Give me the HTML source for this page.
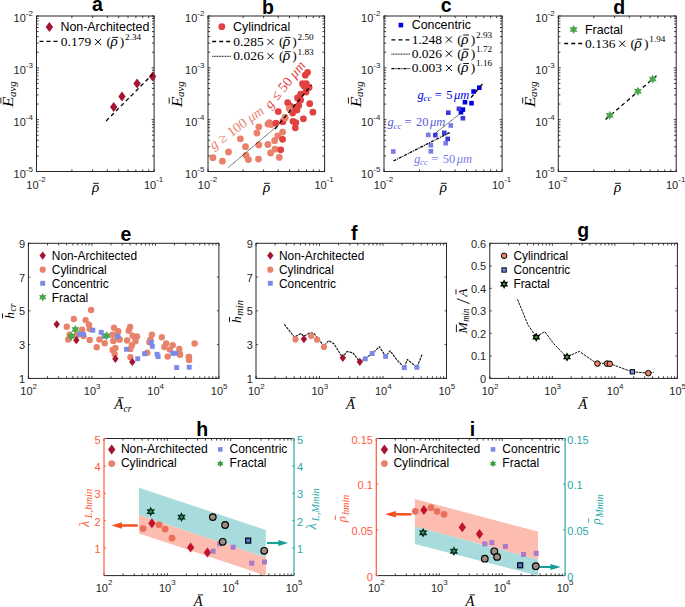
<!DOCTYPE html>
<html><head><meta charset="utf-8"><style>
html,body{margin:0;padding:0;background:#fff;}
body{width:685px;height:607px;overflow:hidden;}
svg{display:block;}
.s{font-family:"Liberation Sans",sans-serif;}
.r{font-family:"Liberation Serif",serif;}
.i{font-style:italic;}
.b{font-weight:bold;}
</style></head><body>
<svg width="685" height="607" viewBox="0 0 685 607">
<rect width="685" height="607" fill="#fff"/>
<g fill="#262626">
<rect x="36.50" y="16.00" width="117.60" height="155.50" fill="none" stroke="#262626" stroke-width="1"/>
<path d="M36.50 171.50v-2.5M36.50 16.00v2.5M71.90 171.50v-2.1M71.90 16.00v2.1M92.61 171.50v-2.1M92.61 16.00v2.1M107.30 171.50v-2.1M107.30 16.00v2.1M118.70 171.50v-2.1M118.70 16.00v2.1M128.01 171.50v-2.1M128.01 16.00v2.1M135.88 171.50v-2.1M135.88 16.00v2.1M142.70 171.50v-2.1M142.70 16.00v2.1M148.72 171.50v-2.1M148.72 16.00v2.1M154.10 171.50v-2.5M154.10 16.00v2.5" stroke="#262626" stroke-width="0.9" fill="none"/>
<path d="M36.50 171.50h2.5M154.10 171.50h-2.5M36.50 155.90h2.1M154.10 155.90h-2.1M36.50 146.77h2.1M154.10 146.77h-2.1M36.50 140.29h2.1M154.10 140.29h-2.1M36.50 135.27h2.1M154.10 135.27h-2.1M36.50 131.17h2.1M154.10 131.17h-2.1M36.50 127.70h2.1M154.10 127.70h-2.1M36.50 124.69h2.1M154.10 124.69h-2.1M36.50 122.04h2.1M154.10 122.04h-2.1M36.50 119.67h2.5M154.10 119.67h-2.5M36.50 104.06h2.1M154.10 104.06h-2.1M36.50 94.94h2.1M154.10 94.94h-2.1M36.50 88.46h2.1M154.10 88.46h-2.1M36.50 83.44h2.1M154.10 83.44h-2.1M36.50 79.33h2.1M154.10 79.33h-2.1M36.50 75.86h2.1M154.10 75.86h-2.1M36.50 72.86h2.1M154.10 72.86h-2.1M36.50 70.21h2.1M154.10 70.21h-2.1M36.50 67.83h2.5M154.10 67.83h-2.5M36.50 52.23h2.1M154.10 52.23h-2.1M36.50 43.10h2.1M154.10 43.10h-2.1M36.50 36.63h2.1M154.10 36.63h-2.1M36.50 31.60h2.1M154.10 31.60h-2.1M36.50 27.50h2.1M154.10 27.50h-2.1M36.50 24.03h2.1M154.10 24.03h-2.1M36.50 21.02h2.1M154.10 21.02h-2.1M36.50 18.37h2.1M154.10 18.37h-2.1M36.50 16.00h2.5M154.10 16.00h-2.5" stroke="#262626" stroke-width="0.9" fill="none"/>
<text x="32.90" y="177.70" class="s" font-size="11" text-anchor="end">10<tspan dy="-6.2" font-size="8">-5</tspan></text>
<text x="32.90" y="125.87" class="s" font-size="11" text-anchor="end">10<tspan dy="-6.2" font-size="8">-4</tspan></text>
<text x="32.90" y="74.03" class="s" font-size="11" text-anchor="end">10<tspan dy="-6.2" font-size="8">-3</tspan></text>
<text x="32.90" y="22.20" class="s" font-size="11" text-anchor="end">10<tspan dy="-6.2" font-size="8">-2</tspan></text>
<text x="36.00" y="188.50" class="s" font-size="11" text-anchor="middle">10<tspan dy="-6.2" font-size="8">-2</tspan></text>
<text x="153.60" y="188.50" class="s" font-size="11" text-anchor="middle">10<tspan dy="-6.2" font-size="8">-1</tspan></text>
<text x="97.45" y="11.30" class="s b" font-size="19.5" fill="#000" text-anchor="middle">a</text>
<rect x="208.00" y="16.00" width="116.60" height="155.50" fill="none" stroke="#262626" stroke-width="1"/>
<path d="M208.00 171.50v-2.5M208.00 16.00v2.5M243.10 171.50v-2.1M243.10 16.00v2.1M263.63 171.50v-2.1M263.63 16.00v2.1M278.20 171.50v-2.1M278.20 16.00v2.1M289.50 171.50v-2.1M289.50 16.00v2.1M298.73 171.50v-2.1M298.73 16.00v2.1M306.54 171.50v-2.1M306.54 16.00v2.1M313.30 171.50v-2.1M313.30 16.00v2.1M319.26 171.50v-2.1M319.26 16.00v2.1M324.60 171.50v-2.5M324.60 16.00v2.5" stroke="#262626" stroke-width="0.9" fill="none"/>
<path d="M208.00 171.50h2.5M324.60 171.50h-2.5M208.00 155.90h2.1M324.60 155.90h-2.1M208.00 146.77h2.1M324.60 146.77h-2.1M208.00 140.29h2.1M324.60 140.29h-2.1M208.00 135.27h2.1M324.60 135.27h-2.1M208.00 131.17h2.1M324.60 131.17h-2.1M208.00 127.70h2.1M324.60 127.70h-2.1M208.00 124.69h2.1M324.60 124.69h-2.1M208.00 122.04h2.1M324.60 122.04h-2.1M208.00 119.67h2.5M324.60 119.67h-2.5M208.00 104.06h2.1M324.60 104.06h-2.1M208.00 94.94h2.1M324.60 94.94h-2.1M208.00 88.46h2.1M324.60 88.46h-2.1M208.00 83.44h2.1M324.60 83.44h-2.1M208.00 79.33h2.1M324.60 79.33h-2.1M208.00 75.86h2.1M324.60 75.86h-2.1M208.00 72.86h2.1M324.60 72.86h-2.1M208.00 70.21h2.1M324.60 70.21h-2.1M208.00 67.83h2.5M324.60 67.83h-2.5M208.00 52.23h2.1M324.60 52.23h-2.1M208.00 43.10h2.1M324.60 43.10h-2.1M208.00 36.63h2.1M324.60 36.63h-2.1M208.00 31.60h2.1M324.60 31.60h-2.1M208.00 27.50h2.1M324.60 27.50h-2.1M208.00 24.03h2.1M324.60 24.03h-2.1M208.00 21.02h2.1M324.60 21.02h-2.1M208.00 18.37h2.1M324.60 18.37h-2.1M208.00 16.00h2.5M324.60 16.00h-2.5" stroke="#262626" stroke-width="0.9" fill="none"/>
<text x="204.40" y="177.70" class="s" font-size="11" text-anchor="end">10<tspan dy="-6.2" font-size="8">-5</tspan></text>
<text x="204.40" y="125.87" class="s" font-size="11" text-anchor="end">10<tspan dy="-6.2" font-size="8">-4</tspan></text>
<text x="204.40" y="74.03" class="s" font-size="11" text-anchor="end">10<tspan dy="-6.2" font-size="8">-3</tspan></text>
<text x="204.40" y="22.20" class="s" font-size="11" text-anchor="end">10<tspan dy="-6.2" font-size="8">-2</tspan></text>
<text x="207.50" y="188.50" class="s" font-size="11" text-anchor="middle">10<tspan dy="-6.2" font-size="8">-2</tspan></text>
<text x="324.10" y="188.50" class="s" font-size="11" text-anchor="middle">10<tspan dy="-6.2" font-size="8">-1</tspan></text>
<text x="267.85" y="13.70" class="s b" font-size="19.5" fill="#000" text-anchor="middle">b</text>
<rect x="384.00" y="16.00" width="118.10" height="155.50" fill="none" stroke="#262626" stroke-width="1"/>
<path d="M384.00 171.50v-2.5M384.00 16.00v2.5M419.55 171.50v-2.1M419.55 16.00v2.1M440.35 171.50v-2.1M440.35 16.00v2.1M455.10 171.50v-2.1M455.10 16.00v2.1M466.55 171.50v-2.1M466.55 16.00v2.1M475.90 171.50v-2.1M475.90 16.00v2.1M483.81 171.50v-2.1M483.81 16.00v2.1M490.65 171.50v-2.1M490.65 16.00v2.1M496.70 171.50v-2.1M496.70 16.00v2.1M502.10 171.50v-2.5M502.10 16.00v2.5" stroke="#262626" stroke-width="0.9" fill="none"/>
<path d="M384.00 171.50h2.5M502.10 171.50h-2.5M384.00 155.90h2.1M502.10 155.90h-2.1M384.00 146.77h2.1M502.10 146.77h-2.1M384.00 140.29h2.1M502.10 140.29h-2.1M384.00 135.27h2.1M502.10 135.27h-2.1M384.00 131.17h2.1M502.10 131.17h-2.1M384.00 127.70h2.1M502.10 127.70h-2.1M384.00 124.69h2.1M502.10 124.69h-2.1M384.00 122.04h2.1M502.10 122.04h-2.1M384.00 119.67h2.5M502.10 119.67h-2.5M384.00 104.06h2.1M502.10 104.06h-2.1M384.00 94.94h2.1M502.10 94.94h-2.1M384.00 88.46h2.1M502.10 88.46h-2.1M384.00 83.44h2.1M502.10 83.44h-2.1M384.00 79.33h2.1M502.10 79.33h-2.1M384.00 75.86h2.1M502.10 75.86h-2.1M384.00 72.86h2.1M502.10 72.86h-2.1M384.00 70.21h2.1M502.10 70.21h-2.1M384.00 67.83h2.5M502.10 67.83h-2.5M384.00 52.23h2.1M502.10 52.23h-2.1M384.00 43.10h2.1M502.10 43.10h-2.1M384.00 36.63h2.1M502.10 36.63h-2.1M384.00 31.60h2.1M502.10 31.60h-2.1M384.00 27.50h2.1M502.10 27.50h-2.1M384.00 24.03h2.1M502.10 24.03h-2.1M384.00 21.02h2.1M502.10 21.02h-2.1M384.00 18.37h2.1M502.10 18.37h-2.1M384.00 16.00h2.5M502.10 16.00h-2.5" stroke="#262626" stroke-width="0.9" fill="none"/>
<text x="380.40" y="177.70" class="s" font-size="11" text-anchor="end">10<tspan dy="-6.2" font-size="8">-5</tspan></text>
<text x="380.40" y="125.87" class="s" font-size="11" text-anchor="end">10<tspan dy="-6.2" font-size="8">-4</tspan></text>
<text x="380.40" y="74.03" class="s" font-size="11" text-anchor="end">10<tspan dy="-6.2" font-size="8">-3</tspan></text>
<text x="380.40" y="22.20" class="s" font-size="11" text-anchor="end">10<tspan dy="-6.2" font-size="8">-2</tspan></text>
<text x="383.50" y="188.50" class="s" font-size="11" text-anchor="middle">10<tspan dy="-6.2" font-size="8">-2</tspan></text>
<text x="501.60" y="188.50" class="s" font-size="11" text-anchor="middle">10<tspan dy="-6.2" font-size="8">-1</tspan></text>
<text x="446.25" y="12.40" class="s b" font-size="19.5" fill="#000" text-anchor="middle">c</text>
<rect x="558.30" y="16.00" width="117.90" height="155.50" fill="none" stroke="#262626" stroke-width="1"/>
<path d="M558.30 171.50v-2.5M558.30 16.00v2.5M593.79 171.50v-2.1M593.79 16.00v2.1M614.55 171.50v-2.1M614.55 16.00v2.1M629.28 171.50v-2.1M629.28 16.00v2.1M640.71 171.50v-2.1M640.71 16.00v2.1M650.04 171.50v-2.1M650.04 16.00v2.1M657.94 171.50v-2.1M657.94 16.00v2.1M664.77 171.50v-2.1M664.77 16.00v2.1M670.81 171.50v-2.1M670.81 16.00v2.1M676.20 171.50v-2.5M676.20 16.00v2.5" stroke="#262626" stroke-width="0.9" fill="none"/>
<path d="M558.30 171.50h2.5M676.20 171.50h-2.5M558.30 155.90h2.1M676.20 155.90h-2.1M558.30 146.77h2.1M676.20 146.77h-2.1M558.30 140.29h2.1M676.20 140.29h-2.1M558.30 135.27h2.1M676.20 135.27h-2.1M558.30 131.17h2.1M676.20 131.17h-2.1M558.30 127.70h2.1M676.20 127.70h-2.1M558.30 124.69h2.1M676.20 124.69h-2.1M558.30 122.04h2.1M676.20 122.04h-2.1M558.30 119.67h2.5M676.20 119.67h-2.5M558.30 104.06h2.1M676.20 104.06h-2.1M558.30 94.94h2.1M676.20 94.94h-2.1M558.30 88.46h2.1M676.20 88.46h-2.1M558.30 83.44h2.1M676.20 83.44h-2.1M558.30 79.33h2.1M676.20 79.33h-2.1M558.30 75.86h2.1M676.20 75.86h-2.1M558.30 72.86h2.1M676.20 72.86h-2.1M558.30 70.21h2.1M676.20 70.21h-2.1M558.30 67.83h2.5M676.20 67.83h-2.5M558.30 52.23h2.1M676.20 52.23h-2.1M558.30 43.10h2.1M676.20 43.10h-2.1M558.30 36.63h2.1M676.20 36.63h-2.1M558.30 31.60h2.1M676.20 31.60h-2.1M558.30 27.50h2.1M676.20 27.50h-2.1M558.30 24.03h2.1M676.20 24.03h-2.1M558.30 21.02h2.1M676.20 21.02h-2.1M558.30 18.37h2.1M676.20 18.37h-2.1M558.30 16.00h2.5M676.20 16.00h-2.5" stroke="#262626" stroke-width="0.9" fill="none"/>
<text x="554.70" y="177.70" class="s" font-size="11" text-anchor="end">10<tspan dy="-6.2" font-size="8">-5</tspan></text>
<text x="554.70" y="125.87" class="s" font-size="11" text-anchor="end">10<tspan dy="-6.2" font-size="8">-4</tspan></text>
<text x="554.70" y="74.03" class="s" font-size="11" text-anchor="end">10<tspan dy="-6.2" font-size="8">-3</tspan></text>
<text x="554.70" y="22.20" class="s" font-size="11" text-anchor="end">10<tspan dy="-6.2" font-size="8">-2</tspan></text>
<text x="557.80" y="188.50" class="s" font-size="11" text-anchor="middle">10<tspan dy="-6.2" font-size="8">-2</tspan></text>
<text x="675.70" y="188.50" class="s" font-size="11" text-anchor="middle">10<tspan dy="-6.2" font-size="8">-1</tspan></text>
<text x="619.30" y="14.00" class="s b" font-size="19.5" fill="#000" text-anchor="middle">d</text>
<polygon points="49.40,22.10 53.10,27.10 49.40,32.10 45.70,27.10" fill="#a2142f" stroke="none" stroke-width="0"/>
<text x="60.50" y="31.20" class="s" font-size="12.4" fill="#000">Non-Architected</text>
<line x1="39.50" y1="41.30" x2="58.50" y2="41.30" stroke="#000" stroke-width="1.3" stroke-dasharray="4,3" stroke-linecap="butt"/>
<text x="60.80" y="46.00" class="r" font-size="13.5" fill="#000">0.179</text>
<line x1="95.00" y1="38.90" x2="101.00" y2="44.90" stroke="#000" stroke-width="1.0" stroke-linecap="butt"/>
<line x1="95.00" y1="44.90" x2="101.00" y2="38.90" stroke="#000" stroke-width="1.0" stroke-linecap="butt"/>
<text x="106.40" y="46.00" class="r" font-size="13.5" fill="#000">(</text>
<text x="110.40" y="46.00" class="r i" font-size="15" fill="#000">ρ</text>
<line x1="112.30" y1="37.40" x2="118.10" y2="37.40" stroke="#000" stroke-width="0.9" stroke-linecap="butt"/>
<text x="119.80" y="46.00" class="r" font-size="13.5" fill="#000">)</text>
<text x="125.10" y="40.20" class="r" font-size="9.2" fill="#000">2.34</text>
<polygon points="113.70,102.10 117.40,107.10 113.70,112.10 110.00,107.10" fill="#a2142f" stroke="none" stroke-width="0"/>
<polygon points="122.00,91.60 125.70,96.60 122.00,101.60 118.30,96.60" fill="#a2142f" stroke="none" stroke-width="0"/>
<polygon points="137.10,78.40 140.80,83.40 137.10,88.40 133.40,83.40" fill="#a2142f" stroke="none" stroke-width="0"/>
<polygon points="152.60,71.50 156.30,76.50 152.60,81.50 148.90,76.50" fill="#a2142f" stroke="none" stroke-width="0"/>
<line x1="106.10" y1="121.00" x2="152.60" y2="74.20" stroke="#000" stroke-width="1.3" stroke-dasharray="4,3" stroke-linecap="butt"/>
<circle cx="221.80" cy="26.70" r="3.4" fill="#e34040" stroke="none" stroke-width="0"/>
<text x="233.00" y="31.10" class="s" font-size="12.4" fill="#000">Cylindrical</text>
<line x1="212.20" y1="41.50" x2="231.00" y2="41.50" stroke="#000" stroke-width="1.3" stroke-dasharray="4,3" stroke-linecap="butt"/>
<text x="233.30" y="46.00" class="r" font-size="13.5" fill="#000">0.285</text>
<line x1="267.50" y1="38.90" x2="273.50" y2="44.90" stroke="#000" stroke-width="1.0" stroke-linecap="butt"/>
<line x1="267.50" y1="44.90" x2="273.50" y2="38.90" stroke="#000" stroke-width="1.0" stroke-linecap="butt"/>
<text x="278.90" y="46.00" class="r" font-size="13.5" fill="#000">(</text>
<text x="282.90" y="46.00" class="r i" font-size="15" fill="#000">ρ</text>
<line x1="284.80" y1="37.40" x2="290.60" y2="37.40" stroke="#000" stroke-width="0.9" stroke-linecap="butt"/>
<text x="292.30" y="46.00" class="r" font-size="13.5" fill="#000">)</text>
<text x="297.60" y="40.20" class="r" font-size="9.2" fill="#000">2.50</text>
<line x1="212.20" y1="56.30" x2="231.00" y2="56.30" stroke="#000" stroke-width="1" stroke-dasharray="1,0.6" stroke-linecap="butt"/>
<text x="233.30" y="60.30" class="r" font-size="13.5" fill="#000">0.026</text>
<line x1="267.50" y1="53.20" x2="273.50" y2="59.20" stroke="#000" stroke-width="1.0" stroke-linecap="butt"/>
<line x1="267.50" y1="59.20" x2="273.50" y2="53.20" stroke="#000" stroke-width="1.0" stroke-linecap="butt"/>
<text x="278.90" y="60.30" class="r" font-size="13.5" fill="#000">(</text>
<text x="282.90" y="60.30" class="r i" font-size="15" fill="#000">ρ</text>
<line x1="284.80" y1="51.70" x2="290.60" y2="51.70" stroke="#000" stroke-width="0.9" stroke-linecap="butt"/>
<text x="292.30" y="60.30" class="r" font-size="13.5" fill="#000">)</text>
<text x="297.60" y="54.50" class="r" font-size="9.2" fill="#000">1.83</text>
<circle cx="212.90" cy="157.70" r="3.4" fill="#e8806a" stroke="none" stroke-width="0"/>
<circle cx="222.40" cy="161.20" r="3.4" fill="#e8806a" stroke="none" stroke-width="0"/>
<circle cx="228.50" cy="152.00" r="3.4" fill="#e8806a" stroke="none" stroke-width="0"/>
<circle cx="240.40" cy="138.80" r="3.4" fill="#e8806a" stroke="none" stroke-width="0"/>
<circle cx="245.50" cy="146.70" r="3.4" fill="#e8806a" stroke="none" stroke-width="0"/>
<circle cx="246.10" cy="155.50" r="3.4" fill="#e8806a" stroke="none" stroke-width="0"/>
<circle cx="248.40" cy="159.60" r="3.4" fill="#e8806a" stroke="none" stroke-width="0"/>
<circle cx="256.90" cy="133.10" r="3.4" fill="#e8806a" stroke="none" stroke-width="0"/>
<circle cx="258.80" cy="126.80" r="3.4" fill="#e8806a" stroke="none" stroke-width="0"/>
<circle cx="258.80" cy="145.00" r="3.4" fill="#e8806a" stroke="none" stroke-width="0"/>
<circle cx="258.50" cy="159.10" r="3.4" fill="#e8806a" stroke="none" stroke-width="0"/>
<circle cx="267.90" cy="124.10" r="3.4" fill="#e8806a" stroke="none" stroke-width="0"/>
<circle cx="269.30" cy="122.60" r="3.4" fill="#e8806a" stroke="none" stroke-width="0"/>
<circle cx="271.20" cy="124.50" r="3.4" fill="#e8806a" stroke="none" stroke-width="0"/>
<circle cx="267.90" cy="144.50" r="3.4" fill="#e8806a" stroke="none" stroke-width="0"/>
<circle cx="270.60" cy="153.00" r="3.4" fill="#e8806a" stroke="none" stroke-width="0"/>
<circle cx="275.00" cy="149.20" r="3.4" fill="#e8806a" stroke="none" stroke-width="0"/>
<circle cx="274.60" cy="140.70" r="3.4" fill="#e8806a" stroke="none" stroke-width="0"/>
<circle cx="277.80" cy="135.90" r="3.4" fill="#e8806a" stroke="none" stroke-width="0"/>
<circle cx="282.60" cy="132.10" r="3.4" fill="#e8806a" stroke="none" stroke-width="0"/>
<circle cx="279.30" cy="157.40" r="3.4" fill="#e8806a" stroke="none" stroke-width="0"/>
<circle cx="285.00" cy="117.50" r="3.4" fill="#e8806a" stroke="none" stroke-width="0"/>
<circle cx="278.20" cy="111.60" r="3.4" fill="#e34040" stroke="none" stroke-width="0"/>
<circle cx="275.90" cy="123.20" r="3.4" fill="#e34040" stroke="none" stroke-width="0"/>
<circle cx="282.90" cy="121.70" r="3.4" fill="#e34040" stroke="none" stroke-width="0"/>
<circle cx="282.60" cy="139.30" r="3.4" fill="#e34040" stroke="none" stroke-width="0"/>
<circle cx="280.70" cy="149.80" r="3.4" fill="#e34040" stroke="none" stroke-width="0"/>
<circle cx="287.70" cy="102.70" r="3.4" fill="#e34040" stroke="none" stroke-width="0"/>
<circle cx="292.60" cy="113.10" r="3.4" fill="#e34040" stroke="none" stroke-width="0"/>
<circle cx="293.00" cy="121.30" r="3.4" fill="#e34040" stroke="none" stroke-width="0"/>
<circle cx="295.80" cy="122.60" r="3.4" fill="#e34040" stroke="none" stroke-width="0"/>
<circle cx="295.30" cy="127.80" r="3.4" fill="#e34040" stroke="none" stroke-width="0"/>
<circle cx="294.90" cy="107.40" r="3.4" fill="#e34040" stroke="none" stroke-width="0"/>
<circle cx="298.70" cy="105.50" r="3.4" fill="#e34040" stroke="none" stroke-width="0"/>
<circle cx="300.60" cy="99.90" r="3.4" fill="#e34040" stroke="none" stroke-width="0"/>
<circle cx="300.60" cy="94.20" r="3.4" fill="#e34040" stroke="none" stroke-width="0"/>
<circle cx="303.40" cy="118.80" r="3.4" fill="#e34040" stroke="none" stroke-width="0"/>
<circle cx="302.50" cy="83.70" r="3.4" fill="#e34040" stroke="none" stroke-width="0"/>
<circle cx="306.30" cy="83.70" r="3.4" fill="#e34040" stroke="none" stroke-width="0"/>
<circle cx="309.10" cy="87.50" r="3.4" fill="#e34040" stroke="none" stroke-width="0"/>
<circle cx="305.30" cy="75.20" r="3.4" fill="#e34040" stroke="none" stroke-width="0"/>
<circle cx="307.60" cy="72.30" r="3.4" fill="#e34040" stroke="none" stroke-width="0"/>
<circle cx="309.70" cy="103.70" r="3.4" fill="#e34040" stroke="none" stroke-width="0"/>
<circle cx="312.90" cy="112.20" r="3.4" fill="#e34040" stroke="none" stroke-width="0"/>
<circle cx="290.00" cy="106.00" r="3.4" fill="#e34040" stroke="none" stroke-width="0"/>
<circle cx="297.00" cy="110.00" r="3.4" fill="#e34040" stroke="none" stroke-width="0"/>
<circle cx="304.00" cy="86.00" r="3.4" fill="#e34040" stroke="none" stroke-width="0"/>
<circle cx="306.00" cy="92.00" r="3.4" fill="#e34040" stroke="none" stroke-width="0"/>
<circle cx="297.50" cy="98.00" r="3.4" fill="#e34040" stroke="none" stroke-width="0"/>
<circle cx="289.20" cy="108.40" r="3.4" fill="#e8806a" stroke="none" stroke-width="0"/>
<circle cx="285.10" cy="118.00" r="3.4" fill="#e8806a" stroke="none" stroke-width="0"/>
<line x1="228.50" y1="167.40" x2="276.00" y2="127.00" stroke="#000" stroke-width="0.8" stroke-dasharray="1,0.5" stroke-linecap="butt"/>
<line x1="275.00" y1="129.00" x2="311.50" y2="85.00" stroke="#000" stroke-width="1.3" stroke-dasharray="4,3" stroke-linecap="butt"/>
<text x="0" y="0" class="r i" font-size="14" fill="#e8806a" text-anchor="middle" transform="translate(239.2,131.4) rotate(-36)">g <tspan font-style="normal">≥ 100</tspan> μm</text>
<text x="0" y="0" class="r i" font-size="14" fill="#e34040" text-anchor="middle" transform="translate(288.3,87.6) rotate(-51)">g <tspan font-style="normal">≤ 50</tspan> μm</text>
<rect x="398.60" y="22.80" width="4.60" height="4.60" fill="#0000e6" stroke="none" stroke-width="0"/>
<text x="411.70" y="28.80" class="s" font-size="12.4" fill="#000">Concentric</text>
<line x1="391.40" y1="39.80" x2="410.20" y2="39.80" stroke="#000" stroke-width="1.3" stroke-dasharray="4,3" stroke-linecap="butt"/>
<text x="411.70" y="43.60" class="r" font-size="13.5" fill="#000">1.248</text>
<line x1="445.90" y1="36.50" x2="451.90" y2="42.50" stroke="#000" stroke-width="1.0" stroke-linecap="butt"/>
<line x1="445.90" y1="42.50" x2="451.90" y2="36.50" stroke="#000" stroke-width="1.0" stroke-linecap="butt"/>
<text x="457.30" y="43.60" class="r" font-size="13.5" fill="#000">(</text>
<text x="461.30" y="43.60" class="r i" font-size="15" fill="#000">ρ</text>
<line x1="463.20" y1="35.00" x2="469.00" y2="35.00" stroke="#000" stroke-width="0.9" stroke-linecap="butt"/>
<text x="470.70" y="43.60" class="r" font-size="13.5" fill="#000">)</text>
<text x="476.00" y="37.80" class="r" font-size="9.2" fill="#000">2.93</text>
<line x1="391.40" y1="54.10" x2="410.20" y2="54.10" stroke="#000" stroke-width="1" stroke-dasharray="1,0.6" stroke-linecap="butt"/>
<text x="411.70" y="57.80" class="r" font-size="13.5" fill="#000">0.026</text>
<line x1="445.90" y1="50.70" x2="451.90" y2="56.70" stroke="#000" stroke-width="1.0" stroke-linecap="butt"/>
<line x1="445.90" y1="56.70" x2="451.90" y2="50.70" stroke="#000" stroke-width="1.0" stroke-linecap="butt"/>
<text x="457.30" y="57.80" class="r" font-size="13.5" fill="#000">(</text>
<text x="461.30" y="57.80" class="r i" font-size="15" fill="#000">ρ</text>
<line x1="463.20" y1="49.20" x2="469.00" y2="49.20" stroke="#000" stroke-width="0.9" stroke-linecap="butt"/>
<text x="470.70" y="57.80" class="r" font-size="13.5" fill="#000">)</text>
<text x="476.00" y="52.00" class="r" font-size="9.2" fill="#000">1.72</text>
<line x1="391.40" y1="68.70" x2="410.20" y2="68.70" stroke="#000" stroke-width="1.3" stroke-dasharray="3,1,1,1" stroke-linecap="butt"/>
<text x="411.70" y="72.10" class="r" font-size="13.5" fill="#000">0.003</text>
<line x1="445.90" y1="65.00" x2="451.90" y2="71.00" stroke="#000" stroke-width="1.0" stroke-linecap="butt"/>
<line x1="445.90" y1="71.00" x2="451.90" y2="65.00" stroke="#000" stroke-width="1.0" stroke-linecap="butt"/>
<text x="457.30" y="72.10" class="r" font-size="13.5" fill="#000">(</text>
<text x="461.30" y="72.10" class="r i" font-size="15" fill="#000">ρ</text>
<line x1="463.20" y1="63.50" x2="469.00" y2="63.50" stroke="#000" stroke-width="0.9" stroke-linecap="butt"/>
<text x="470.70" y="72.10" class="r" font-size="13.5" fill="#000">)</text>
<text x="476.00" y="66.30" class="r" font-size="9.2" fill="#000">1.16</text>
<rect x="477.00" y="85.40" width="4.60" height="4.60" fill="#0000e6" stroke="none" stroke-width="0"/>
<rect x="471.30" y="89.20" width="4.60" height="4.60" fill="#0000e6" stroke="none" stroke-width="0"/>
<rect x="462.70" y="99.90" width="4.60" height="4.60" fill="#0000e6" stroke="none" stroke-width="0"/>
<rect x="469.20" y="100.90" width="4.60" height="4.60" fill="#0000e6" stroke="none" stroke-width="0"/>
<rect x="460.60" y="107.30" width="4.60" height="4.60" fill="#0000e6" stroke="none" stroke-width="0"/>
<rect x="458.70" y="109.90" width="4.60" height="4.60" fill="#0000e6" stroke="none" stroke-width="0"/>
<rect x="456.60" y="106.50" width="4.60" height="4.60" fill="#3b3bdc" stroke="none" stroke-width="0"/>
<rect x="446.00" y="110.40" width="4.60" height="4.60" fill="#3b3bdc" stroke="none" stroke-width="0"/>
<rect x="460.60" y="115.90" width="4.60" height="4.60" fill="#3b3bdc" stroke="none" stroke-width="0"/>
<rect x="433.00" y="132.80" width="4.60" height="4.60" fill="#3b3bdc" stroke="none" stroke-width="0"/>
<rect x="442.00" y="130.60" width="4.60" height="4.60" fill="#3b3bdc" stroke="none" stroke-width="0"/>
<rect x="445.40" y="136.60" width="4.60" height="4.60" fill="#3b3bdc" stroke="none" stroke-width="0"/>
<rect x="448.50" y="123.20" width="4.60" height="4.60" fill="#7b7be8" stroke="none" stroke-width="0"/>
<rect x="426.00" y="132.60" width="4.60" height="4.60" fill="#7b7be8" stroke="none" stroke-width="0"/>
<rect x="428.60" y="143.00" width="4.60" height="4.60" fill="#7b7be8" stroke="none" stroke-width="0"/>
<rect x="443.40" y="140.90" width="4.60" height="4.60" fill="#7b7be8" stroke="none" stroke-width="0"/>
<rect x="428.60" y="149.00" width="4.60" height="4.60" fill="#7b7be8" stroke="none" stroke-width="0"/>
<rect x="391.00" y="149.20" width="4.60" height="4.60" fill="#7b7be8" stroke="none" stroke-width="0"/>
<line x1="471.00" y1="97.60" x2="482.50" y2="83.80" stroke="#000" stroke-width="1.3" stroke-dasharray="4,3" stroke-linecap="butt"/>
<line x1="434.80" y1="133.70" x2="460.70" y2="113.10" stroke="#000" stroke-width="0.8" stroke-dasharray="1,0.5" stroke-linecap="butt"/>
<line x1="393.50" y1="161.00" x2="449.80" y2="132.50" stroke="#000" stroke-width="1.3" stroke-dasharray="3,1,1,1" stroke-linecap="butt"/>
<text x="417.60" y="98.50" class="r i" font-size="12.5" fill="#0000e6">g</text>
<text x="423.60" y="101.00" class="r i" font-size="9" fill="#0000e6">cc</text>
<text x="434.80" y="98.50" class="r" font-size="12.5" fill="#0000e6">=</text>
<text x="446.20" y="98.50" class="r" font-size="12.5" fill="#0000e6">5</text>
<text x="454.05" y="98.50" class="r i" font-size="12.5" fill="#0000e6">μm</text>
<text x="387.40" y="126.00" class="r i" font-size="12.5" fill="#5a5ad8">g</text>
<text x="393.40" y="128.50" class="r i" font-size="9" fill="#5a5ad8">cc</text>
<text x="404.60" y="126.00" class="r" font-size="12.5" fill="#5a5ad8">=</text>
<text x="416.00" y="126.00" class="r" font-size="12.5" fill="#5a5ad8">20</text>
<text x="430.10" y="126.00" class="r i" font-size="12.5" fill="#5a5ad8">μm</text>
<text x="414.10" y="162.50" class="r i" font-size="12.5" fill="#7b7be8">g</text>
<text x="420.10" y="165.00" class="r i" font-size="9" fill="#7b7be8">cc</text>
<text x="431.30" y="162.50" class="r" font-size="12.5" fill="#7b7be8">=</text>
<text x="442.70" y="162.50" class="r" font-size="12.5" fill="#7b7be8">50</text>
<text x="456.80" y="162.50" class="r i" font-size="12.5" fill="#7b7be8">μm</text>
<polygon points="573.60,24.90 572.34,27.31 569.62,27.20 571.07,29.50 569.62,31.80 572.34,31.69 573.60,34.10 574.87,31.69 577.58,31.80 576.13,29.50 577.58,27.20 574.87,27.31" fill="#4ca64c" stroke="none" stroke-width="0"/>
<text x="585.00" y="33.60" class="s" font-size="12.4" fill="#000">Fractal</text>
<line x1="564.20" y1="43.50" x2="583.00" y2="43.50" stroke="#000" stroke-width="1.3" stroke-dasharray="4,3" stroke-linecap="butt"/>
<text x="585.00" y="47.80" class="r" font-size="13.5" fill="#000">0.136</text>
<line x1="619.20" y1="40.70" x2="625.20" y2="46.70" stroke="#000" stroke-width="1.0" stroke-linecap="butt"/>
<line x1="619.20" y1="46.70" x2="625.20" y2="40.70" stroke="#000" stroke-width="1.0" stroke-linecap="butt"/>
<text x="630.60" y="47.80" class="r" font-size="13.5" fill="#000">(</text>
<text x="634.60" y="47.80" class="r i" font-size="15" fill="#000">ρ</text>
<line x1="636.50" y1="39.20" x2="642.30" y2="39.20" stroke="#000" stroke-width="0.9" stroke-linecap="butt"/>
<text x="644.00" y="47.80" class="r" font-size="13.5" fill="#000">)</text>
<text x="649.30" y="42.00" class="r" font-size="9.2" fill="#000">1.94</text>
<line x1="605.60" y1="119.40" x2="658.30" y2="74.20" stroke="#000" stroke-width="1.3" stroke-dasharray="4,3" stroke-linecap="butt"/>
<polygon points="609.80,110.80 608.53,113.21 605.82,113.10 607.27,115.40 605.82,117.70 608.53,117.59 609.80,120.00 611.06,117.59 613.78,117.70 612.33,115.40 613.78,113.10 611.06,113.21" fill="#4ca64c" stroke="none" stroke-width="0"/>
<polygon points="637.90,86.70 636.63,89.11 633.92,89.00 635.37,91.30 633.92,93.60 636.63,93.49 637.90,95.90 639.16,93.49 641.88,93.60 640.43,91.30 641.88,89.00 639.16,89.11" fill="#4ca64c" stroke="none" stroke-width="0"/>
<polygon points="652.70,74.50 651.44,76.91 648.72,76.80 650.17,79.10 648.72,81.40 651.44,81.29 652.70,83.70 653.97,81.29 656.68,81.40 655.23,79.10 656.68,76.80 653.97,76.91" fill="#4ca64c" stroke="none" stroke-width="0"/>
<rect x="28.40" y="243.30" width="190.50" height="135.10" fill="none" stroke="#262626" stroke-width="1"/>
<path d="M28.40 378.40v-2.5M28.40 243.30v2.5M47.52 378.40v-2.1M47.52 243.30v2.1M58.70 378.40v-2.1M58.70 243.30v2.1M66.63 378.40v-2.1M66.63 243.30v2.1M72.78 378.40v-2.1M72.78 243.30v2.1M77.81 378.40v-2.1M77.81 243.30v2.1M82.06 378.40v-2.1M82.06 243.30v2.1M85.75 378.40v-2.1M85.75 243.30v2.1M88.99 378.40v-2.1M88.99 243.30v2.1M91.90 378.40v-2.5M91.90 243.30v2.5M111.02 378.40v-2.1M111.02 243.30v2.1M122.20 378.40v-2.1M122.20 243.30v2.1M130.13 378.40v-2.1M130.13 243.30v2.1M136.28 378.40v-2.1M136.28 243.30v2.1M141.31 378.40v-2.1M141.31 243.30v2.1M145.56 378.40v-2.1M145.56 243.30v2.1M149.25 378.40v-2.1M149.25 243.30v2.1M152.49 378.40v-2.1M152.49 243.30v2.1M155.40 378.40v-2.5M155.40 243.30v2.5M174.52 378.40v-2.1M174.52 243.30v2.1M185.70 378.40v-2.1M185.70 243.30v2.1M193.63 378.40v-2.1M193.63 243.30v2.1M199.78 378.40v-2.1M199.78 243.30v2.1M204.81 378.40v-2.1M204.81 243.30v2.1M209.06 378.40v-2.1M209.06 243.30v2.1M212.75 378.40v-2.1M212.75 243.30v2.1M215.99 378.40v-2.1M215.99 243.30v2.1M218.90 378.40v-2.5M218.90 243.30v2.5" stroke="#262626" stroke-width="0.9" fill="none"/>
<text x="28.70" y="394.80" class="s" font-size="11" text-anchor="middle">10<tspan dy="-6.2" font-size="8">2</tspan></text>
<text x="92.20" y="394.80" class="s" font-size="11" text-anchor="middle">10<tspan dy="-6.2" font-size="8">3</tspan></text>
<text x="155.70" y="394.80" class="s" font-size="11" text-anchor="middle">10<tspan dy="-6.2" font-size="8">4</tspan></text>
<text x="219.20" y="394.80" class="s" font-size="11" text-anchor="middle">10<tspan dy="-6.2" font-size="8">5</tspan></text>
<text x="125.85" y="241.00" class="s b" font-size="19.5" fill="#000" text-anchor="middle">e</text>
<rect x="256.00" y="243.30" width="190.50" height="135.10" fill="none" stroke="#262626" stroke-width="1"/>
<path d="M256.00 378.40v-2.5M256.00 243.30v2.5M275.12 378.40v-2.1M275.12 243.30v2.1M286.30 378.40v-2.1M286.30 243.30v2.1M294.23 378.40v-2.1M294.23 243.30v2.1M300.38 378.40v-2.1M300.38 243.30v2.1M305.41 378.40v-2.1M305.41 243.30v2.1M309.66 378.40v-2.1M309.66 243.30v2.1M313.35 378.40v-2.1M313.35 243.30v2.1M316.59 378.40v-2.1M316.59 243.30v2.1M319.50 378.40v-2.5M319.50 243.30v2.5M338.62 378.40v-2.1M338.62 243.30v2.1M349.80 378.40v-2.1M349.80 243.30v2.1M357.73 378.40v-2.1M357.73 243.30v2.1M363.88 378.40v-2.1M363.88 243.30v2.1M368.91 378.40v-2.1M368.91 243.30v2.1M373.16 378.40v-2.1M373.16 243.30v2.1M376.85 378.40v-2.1M376.85 243.30v2.1M380.09 378.40v-2.1M380.09 243.30v2.1M383.00 378.40v-2.5M383.00 243.30v2.5M402.12 378.40v-2.1M402.12 243.30v2.1M413.30 378.40v-2.1M413.30 243.30v2.1M421.23 378.40v-2.1M421.23 243.30v2.1M427.38 378.40v-2.1M427.38 243.30v2.1M432.41 378.40v-2.1M432.41 243.30v2.1M436.66 378.40v-2.1M436.66 243.30v2.1M440.35 378.40v-2.1M440.35 243.30v2.1M443.59 378.40v-2.1M443.59 243.30v2.1M446.50 378.40v-2.5M446.50 243.30v2.5" stroke="#262626" stroke-width="0.9" fill="none"/>
<text x="256.30" y="394.80" class="s" font-size="11" text-anchor="middle">10<tspan dy="-6.2" font-size="8">2</tspan></text>
<text x="319.80" y="394.80" class="s" font-size="11" text-anchor="middle">10<tspan dy="-6.2" font-size="8">3</tspan></text>
<text x="383.30" y="394.80" class="s" font-size="11" text-anchor="middle">10<tspan dy="-6.2" font-size="8">4</tspan></text>
<text x="446.80" y="394.80" class="s" font-size="11" text-anchor="middle">10<tspan dy="-6.2" font-size="8">5</tspan></text>
<text x="354.30" y="240.00" class="s b" font-size="19.5" fill="#000" text-anchor="middle">f</text>
<rect x="489.80" y="243.30" width="187.60" height="135.10" fill="none" stroke="#262626" stroke-width="1"/>
<path d="M489.80 378.40v-2.5M489.80 243.30v2.5M508.62 378.40v-2.1M508.62 243.30v2.1M519.64 378.40v-2.1M519.64 243.30v2.1M527.45 378.40v-2.1M527.45 243.30v2.1M533.51 378.40v-2.1M533.51 243.30v2.1M538.46 378.40v-2.1M538.46 243.30v2.1M542.65 378.40v-2.1M542.65 243.30v2.1M546.27 378.40v-2.1M546.27 243.30v2.1M549.47 378.40v-2.1M549.47 243.30v2.1M552.33 378.40v-2.5M552.33 243.30v2.5M571.16 378.40v-2.1M571.16 243.30v2.1M582.17 378.40v-2.1M582.17 243.30v2.1M589.98 378.40v-2.1M589.98 243.30v2.1M596.04 378.40v-2.1M596.04 243.30v2.1M600.99 378.40v-2.1M600.99 243.30v2.1M605.18 378.40v-2.1M605.18 243.30v2.1M608.81 378.40v-2.1M608.81 243.30v2.1M612.01 378.40v-2.1M612.01 243.30v2.1M614.87 378.40v-2.5M614.87 243.30v2.5M633.69 378.40v-2.1M633.69 243.30v2.1M644.70 378.40v-2.1M644.70 243.30v2.1M652.52 378.40v-2.1M652.52 243.30v2.1M658.58 378.40v-2.1M658.58 243.30v2.1M663.53 378.40v-2.1M663.53 243.30v2.1M667.71 378.40v-2.1M667.71 243.30v2.1M671.34 378.40v-2.1M671.34 243.30v2.1M674.54 378.40v-2.1M674.54 243.30v2.1M677.40 378.40v-2.5M677.40 243.30v2.5" stroke="#262626" stroke-width="0.9" fill="none"/>
<text x="490.10" y="394.80" class="s" font-size="11" text-anchor="middle">10<tspan dy="-6.2" font-size="8">2</tspan></text>
<text x="552.63" y="394.80" class="s" font-size="11" text-anchor="middle">10<tspan dy="-6.2" font-size="8">3</tspan></text>
<text x="615.17" y="394.80" class="s" font-size="11" text-anchor="middle">10<tspan dy="-6.2" font-size="8">4</tspan></text>
<text x="677.70" y="394.80" class="s" font-size="11" text-anchor="middle">10<tspan dy="-6.2" font-size="8">5</tspan></text>
<text x="583.15" y="236.80" class="s b" font-size="19.5" fill="#000" text-anchor="middle">g</text>
<line x1="28.40" y1="378.40" x2="30.40" y2="378.40" stroke="#262626" stroke-width="0.8" stroke-linecap="butt"/>
<line x1="218.90" y1="378.40" x2="216.90" y2="378.40" stroke="#262626" stroke-width="0.8" stroke-linecap="butt"/>
<text x="25.20" y="382.90" class="s" font-size="11" text-anchor="end">1</text>
<line x1="28.40" y1="344.62" x2="30.40" y2="344.62" stroke="#262626" stroke-width="0.8" stroke-linecap="butt"/>
<line x1="218.90" y1="344.62" x2="216.90" y2="344.62" stroke="#262626" stroke-width="0.8" stroke-linecap="butt"/>
<text x="25.20" y="349.12" class="s" font-size="11" text-anchor="end">3</text>
<line x1="28.40" y1="310.85" x2="30.40" y2="310.85" stroke="#262626" stroke-width="0.8" stroke-linecap="butt"/>
<line x1="218.90" y1="310.85" x2="216.90" y2="310.85" stroke="#262626" stroke-width="0.8" stroke-linecap="butt"/>
<text x="25.20" y="315.35" class="s" font-size="11" text-anchor="end">5</text>
<line x1="28.40" y1="277.07" x2="30.40" y2="277.07" stroke="#262626" stroke-width="0.8" stroke-linecap="butt"/>
<line x1="218.90" y1="277.07" x2="216.90" y2="277.07" stroke="#262626" stroke-width="0.8" stroke-linecap="butt"/>
<text x="25.20" y="281.57" class="s" font-size="11" text-anchor="end">7</text>
<line x1="28.40" y1="243.30" x2="30.40" y2="243.30" stroke="#262626" stroke-width="0.8" stroke-linecap="butt"/>
<line x1="218.90" y1="243.30" x2="216.90" y2="243.30" stroke="#262626" stroke-width="0.8" stroke-linecap="butt"/>
<text x="25.20" y="247.80" class="s" font-size="11" text-anchor="end">9</text>
<line x1="256.00" y1="378.40" x2="258.00" y2="378.40" stroke="#262626" stroke-width="0.8" stroke-linecap="butt"/>
<line x1="446.50" y1="378.40" x2="444.50" y2="378.40" stroke="#262626" stroke-width="0.8" stroke-linecap="butt"/>
<text x="252.80" y="382.90" class="s" font-size="11" text-anchor="end">1</text>
<line x1="256.00" y1="344.62" x2="258.00" y2="344.62" stroke="#262626" stroke-width="0.8" stroke-linecap="butt"/>
<line x1="446.50" y1="344.62" x2="444.50" y2="344.62" stroke="#262626" stroke-width="0.8" stroke-linecap="butt"/>
<text x="252.80" y="349.12" class="s" font-size="11" text-anchor="end">3</text>
<line x1="256.00" y1="310.85" x2="258.00" y2="310.85" stroke="#262626" stroke-width="0.8" stroke-linecap="butt"/>
<line x1="446.50" y1="310.85" x2="444.50" y2="310.85" stroke="#262626" stroke-width="0.8" stroke-linecap="butt"/>
<text x="252.80" y="315.35" class="s" font-size="11" text-anchor="end">5</text>
<line x1="256.00" y1="277.07" x2="258.00" y2="277.07" stroke="#262626" stroke-width="0.8" stroke-linecap="butt"/>
<line x1="446.50" y1="277.07" x2="444.50" y2="277.07" stroke="#262626" stroke-width="0.8" stroke-linecap="butt"/>
<text x="252.80" y="281.57" class="s" font-size="11" text-anchor="end">7</text>
<line x1="256.00" y1="243.30" x2="258.00" y2="243.30" stroke="#262626" stroke-width="0.8" stroke-linecap="butt"/>
<line x1="446.50" y1="243.30" x2="444.50" y2="243.30" stroke="#262626" stroke-width="0.8" stroke-linecap="butt"/>
<text x="252.80" y="247.80" class="s" font-size="11" text-anchor="end">9</text>
<line x1="489.80" y1="378.40" x2="491.80" y2="378.40" stroke="#262626" stroke-width="0.8" stroke-linecap="butt"/>
<line x1="677.40" y1="378.40" x2="675.40" y2="378.40" stroke="#262626" stroke-width="0.8" stroke-linecap="butt"/>
<text x="486.20" y="382.90" class="s" font-size="11" text-anchor="end">0</text>
<line x1="489.80" y1="355.88" x2="491.80" y2="355.88" stroke="#262626" stroke-width="0.8" stroke-linecap="butt"/>
<line x1="677.40" y1="355.88" x2="675.40" y2="355.88" stroke="#262626" stroke-width="0.8" stroke-linecap="butt"/>
<text x="486.20" y="360.38" class="s" font-size="11" text-anchor="end">0.1</text>
<line x1="489.80" y1="333.37" x2="491.80" y2="333.37" stroke="#262626" stroke-width="0.8" stroke-linecap="butt"/>
<line x1="677.40" y1="333.37" x2="675.40" y2="333.37" stroke="#262626" stroke-width="0.8" stroke-linecap="butt"/>
<text x="486.20" y="337.87" class="s" font-size="11" text-anchor="end">0.2</text>
<line x1="489.80" y1="310.85" x2="491.80" y2="310.85" stroke="#262626" stroke-width="0.8" stroke-linecap="butt"/>
<line x1="677.40" y1="310.85" x2="675.40" y2="310.85" stroke="#262626" stroke-width="0.8" stroke-linecap="butt"/>
<text x="486.20" y="315.35" class="s" font-size="11" text-anchor="end">0.3</text>
<line x1="489.80" y1="288.33" x2="491.80" y2="288.33" stroke="#262626" stroke-width="0.8" stroke-linecap="butt"/>
<line x1="677.40" y1="288.33" x2="675.40" y2="288.33" stroke="#262626" stroke-width="0.8" stroke-linecap="butt"/>
<text x="486.20" y="292.83" class="s" font-size="11" text-anchor="end">0.4</text>
<line x1="489.80" y1="265.82" x2="491.80" y2="265.82" stroke="#262626" stroke-width="0.8" stroke-linecap="butt"/>
<line x1="677.40" y1="265.82" x2="675.40" y2="265.82" stroke="#262626" stroke-width="0.8" stroke-linecap="butt"/>
<text x="486.20" y="270.32" class="s" font-size="11" text-anchor="end">0.5</text>
<line x1="489.80" y1="243.30" x2="491.80" y2="243.30" stroke="#262626" stroke-width="0.8" stroke-linecap="butt"/>
<line x1="677.40" y1="243.30" x2="675.40" y2="243.30" stroke="#262626" stroke-width="0.8" stroke-linecap="butt"/>
<text x="486.20" y="247.80" class="s" font-size="11" text-anchor="end">0.6</text>
<polygon points="42.70,251.50 45.90,255.60 42.70,259.70 39.50,255.60" fill="#a2142f" stroke="none" stroke-width="0"/>
<text x="51.80" y="260.20" class="s" font-size="11.9" fill="#000">Non-Architected</text>
<circle cx="42.70" cy="269.70" r="3.1" fill="#e8836b" stroke="none" stroke-width="0"/>
<text x="51.80" y="274.10" class="s" font-size="11.9" fill="#000">Cylindrical</text>
<rect x="40.25" y="280.85" width="4.90" height="4.90" fill="#7b8ae6" stroke="none" stroke-width="0"/>
<text x="51.80" y="288.20" class="s" font-size="11.9" fill="#000">Concentric</text>
<polygon points="42.70,292.90 41.52,295.15 38.98,295.05 40.34,297.20 38.98,299.35 41.52,299.25 42.70,301.50 43.88,299.25 46.42,299.35 45.07,297.20 46.42,295.05 43.88,295.15" fill="#4ca64c" stroke="none" stroke-width="0"/>
<text x="51.80" y="302.10" class="s" font-size="11.9" fill="#000">Fractal</text>
<circle cx="91.10" cy="310.00" r="3.2" fill="#e8836b" stroke="none" stroke-width="0"/>
<circle cx="73.80" cy="319.00" r="3.2" fill="#e8836b" stroke="none" stroke-width="0"/>
<circle cx="85.60" cy="320.10" r="3.2" fill="#e8836b" stroke="none" stroke-width="0"/>
<circle cx="89.00" cy="324.70" r="3.2" fill="#e8836b" stroke="none" stroke-width="0"/>
<circle cx="66.80" cy="326.80" r="3.2" fill="#e8836b" stroke="none" stroke-width="0"/>
<circle cx="89.70" cy="329.10" r="3.2" fill="#e8836b" stroke="none" stroke-width="0"/>
<circle cx="82.10" cy="329.80" r="3.2" fill="#e8836b" stroke="none" stroke-width="0"/>
<circle cx="68.20" cy="339.50" r="3.2" fill="#e8836b" stroke="none" stroke-width="0"/>
<circle cx="76.50" cy="335.40" r="3.2" fill="#e8836b" stroke="none" stroke-width="0"/>
<circle cx="83.50" cy="336.10" r="3.2" fill="#e8836b" stroke="none" stroke-width="0"/>
<circle cx="89.70" cy="340.00" r="3.2" fill="#e8836b" stroke="none" stroke-width="0"/>
<circle cx="96.70" cy="347.20" r="3.2" fill="#e8836b" stroke="none" stroke-width="0"/>
<circle cx="99.40" cy="339.50" r="3.2" fill="#e8836b" stroke="none" stroke-width="0"/>
<circle cx="104.70" cy="343.30" r="3.2" fill="#e8836b" stroke="none" stroke-width="0"/>
<circle cx="114.00" cy="327.70" r="3.2" fill="#e8836b" stroke="none" stroke-width="0"/>
<circle cx="118.20" cy="331.20" r="3.2" fill="#e8836b" stroke="none" stroke-width="0"/>
<circle cx="112.60" cy="334.70" r="3.2" fill="#e8836b" stroke="none" stroke-width="0"/>
<circle cx="113.30" cy="340.90" r="3.2" fill="#e8836b" stroke="none" stroke-width="0"/>
<circle cx="119.50" cy="339.50" r="3.2" fill="#e8836b" stroke="none" stroke-width="0"/>
<circle cx="115.40" cy="347.90" r="3.2" fill="#e8836b" stroke="none" stroke-width="0"/>
<circle cx="112.60" cy="349.90" r="3.2" fill="#e8836b" stroke="none" stroke-width="0"/>
<circle cx="114.70" cy="354.10" r="3.2" fill="#e8836b" stroke="none" stroke-width="0"/>
<circle cx="69.60" cy="334.70" r="3.2" fill="#e8836b" stroke="none" stroke-width="0"/>
<circle cx="130.10" cy="327.00" r="3.2" fill="#e8836b" stroke="none" stroke-width="0"/>
<circle cx="128.70" cy="330.70" r="3.2" fill="#e8836b" stroke="none" stroke-width="0"/>
<circle cx="132.60" cy="335.80" r="3.2" fill="#e8836b" stroke="none" stroke-width="0"/>
<circle cx="137.00" cy="336.50" r="3.2" fill="#e8836b" stroke="none" stroke-width="0"/>
<circle cx="127.10" cy="340.40" r="3.2" fill="#e8836b" stroke="none" stroke-width="0"/>
<circle cx="135.50" cy="341.20" r="3.2" fill="#e8836b" stroke="none" stroke-width="0"/>
<circle cx="131.90" cy="345.30" r="3.2" fill="#e8836b" stroke="none" stroke-width="0"/>
<circle cx="130.40" cy="348.90" r="3.2" fill="#e8836b" stroke="none" stroke-width="0"/>
<circle cx="130.40" cy="357.20" r="3.2" fill="#e8836b" stroke="none" stroke-width="0"/>
<circle cx="151.90" cy="334.60" r="3.2" fill="#e8836b" stroke="none" stroke-width="0"/>
<circle cx="150.40" cy="339.40" r="3.2" fill="#e8836b" stroke="none" stroke-width="0"/>
<circle cx="149.40" cy="342.30" r="3.2" fill="#e8836b" stroke="none" stroke-width="0"/>
<circle cx="147.20" cy="352.80" r="3.2" fill="#e8836b" stroke="none" stroke-width="0"/>
<circle cx="161.80" cy="337.20" r="3.2" fill="#e8836b" stroke="none" stroke-width="0"/>
<circle cx="166.20" cy="343.50" r="3.2" fill="#e8836b" stroke="none" stroke-width="0"/>
<circle cx="164.40" cy="347.00" r="3.2" fill="#e8836b" stroke="none" stroke-width="0"/>
<circle cx="172.70" cy="345.30" r="3.2" fill="#e8836b" stroke="none" stroke-width="0"/>
<circle cx="169.80" cy="349.60" r="3.2" fill="#e8836b" stroke="none" stroke-width="0"/>
<circle cx="179.30" cy="348.90" r="3.2" fill="#e8836b" stroke="none" stroke-width="0"/>
<circle cx="180.00" cy="354.70" r="3.2" fill="#e8836b" stroke="none" stroke-width="0"/>
<circle cx="167.60" cy="356.60" r="3.2" fill="#e8836b" stroke="none" stroke-width="0"/>
<circle cx="188.80" cy="356.90" r="3.2" fill="#e8836b" stroke="none" stroke-width="0"/>
<circle cx="189.10" cy="359.90" r="3.2" fill="#e8836b" stroke="none" stroke-width="0"/>
<circle cx="194.60" cy="343.50" r="3.2" fill="#e8836b" stroke="none" stroke-width="0"/>
<circle cx="118.00" cy="331.40" r="3.2" fill="#e8836b" stroke="none" stroke-width="0"/>
<circle cx="119.50" cy="339.40" r="3.2" fill="#e8836b" stroke="none" stroke-width="0"/>
<circle cx="180.00" cy="354.00" r="3.2" fill="#e8836b" stroke="none" stroke-width="0"/>
<circle cx="188.90" cy="356.90" r="3.2" fill="#e8836b" stroke="none" stroke-width="0"/>
<rect x="81.05" y="331.95" width="4.90" height="4.90" fill="#7b8ae6" stroke="none" stroke-width="0"/>
<rect x="77.55" y="331.95" width="4.90" height="4.90" fill="#7b8ae6" stroke="none" stroke-width="0"/>
<rect x="90.35" y="327.75" width="4.90" height="4.90" fill="#7b8ae6" stroke="none" stroke-width="0"/>
<rect x="98.75" y="329.85" width="4.90" height="4.90" fill="#7b8ae6" stroke="none" stroke-width="0"/>
<rect x="101.55" y="333.85" width="4.90" height="4.90" fill="#7b8ae6" stroke="none" stroke-width="0"/>
<rect x="115.05" y="334.05" width="4.90" height="4.90" fill="#7b8ae6" stroke="none" stroke-width="0"/>
<rect x="124.05" y="346.85" width="4.90" height="4.90" fill="#7b8ae6" stroke="none" stroke-width="0"/>
<rect x="135.25" y="356.25" width="4.90" height="4.90" fill="#7b8ae6" stroke="none" stroke-width="0"/>
<rect x="142.15" y="351.25" width="4.90" height="4.90" fill="#7b8ae6" stroke="none" stroke-width="0"/>
<rect x="148.85" y="339.85" width="4.90" height="4.90" fill="#7b8ae6" stroke="none" stroke-width="0"/>
<rect x="149.85" y="343.95" width="4.90" height="4.90" fill="#7b8ae6" stroke="none" stroke-width="0"/>
<rect x="154.65" y="351.85" width="4.90" height="4.90" fill="#7b8ae6" stroke="none" stroke-width="0"/>
<rect x="155.65" y="354.15" width="4.90" height="4.90" fill="#7b8ae6" stroke="none" stroke-width="0"/>
<rect x="170.25" y="350.85" width="4.90" height="4.90" fill="#7b8ae6" stroke="none" stroke-width="0"/>
<rect x="173.25" y="350.85" width="4.90" height="4.90" fill="#7b8ae6" stroke="none" stroke-width="0"/>
<rect x="174.25" y="365.15" width="4.90" height="4.90" fill="#7b8ae6" stroke="none" stroke-width="0"/>
<rect x="186.75" y="364.75" width="4.90" height="4.90" fill="#7b8ae6" stroke="none" stroke-width="0"/>
<rect x="115.55" y="334.05" width="4.90" height="4.90" fill="#7b8ae6" stroke="none" stroke-width="0"/>
<polygon points="56.70,320.20 59.90,324.30 56.70,328.40 53.50,324.30" fill="#a2142f" stroke="none" stroke-width="0"/>
<polygon points="76.30,336.10 79.50,340.20 76.30,344.30 73.10,340.20" fill="#a2142f" stroke="none" stroke-width="0"/>
<polygon points="115.40,354.70 118.60,358.80 115.40,362.90 112.20,358.80" fill="#a2142f" stroke="none" stroke-width="0"/>
<polygon points="132.30,357.90 135.50,362.00 132.30,366.10 129.10,362.00" fill="#a2142f" stroke="none" stroke-width="0"/>
<polygon points="75.40,324.90 74.14,327.31 71.42,327.20 72.87,329.50 71.42,331.80 74.14,331.69 75.40,334.10 76.67,331.69 79.38,331.80 77.93,329.50 79.38,327.20 76.67,327.31" fill="#4ca64c" stroke="none" stroke-width="0"/>
<polygon points="71.30,331.70 70.03,334.11 67.32,334.00 68.77,336.30 67.32,338.60 70.03,338.49 71.30,340.90 72.56,338.49 75.28,338.60 73.83,336.30 75.28,334.00 72.56,334.11" fill="#4ca64c" stroke="none" stroke-width="0"/>
<polygon points="106.60,331.20 105.33,333.61 102.62,333.50 104.07,335.80 102.62,338.10 105.33,337.99 106.60,340.40 107.86,337.99 110.58,338.10 109.13,335.80 110.58,333.50 107.86,333.61" fill="#4ca64c" stroke="none" stroke-width="0"/>
<polygon points="270.30,251.50 273.50,255.60 270.30,259.70 267.10,255.60" fill="#a2142f" stroke="none" stroke-width="0"/>
<text x="279.00" y="260.20" class="s" font-size="11.9" fill="#000">Non-Architected</text>
<circle cx="270.30" cy="269.70" r="3.1" fill="#e8836b" stroke="none" stroke-width="0"/>
<text x="279.00" y="274.10" class="s" font-size="11.9" fill="#000">Cylindrical</text>
<rect x="267.85" y="280.85" width="4.90" height="4.90" fill="#7b8ae6" stroke="none" stroke-width="0"/>
<text x="279.00" y="288.20" class="s" font-size="11.9" fill="#000">Concentric</text>
<polyline points="284.30,324.30 294.50,337.10 301.00,333.50 303.50,336.00 306.00,335.00 309.50,333.00 313.50,333.10 317.00,337.00 324.00,346.30 328.60,340.60 333.90,343.70 342.40,357.40 347.00,351.50 352.90,352.80 359.50,361.40 365.30,358.80 372.20,353.50 379.40,346.70 385.60,356.40 390.20,350.90 397.00,360.00 404.30,367.60 407.30,359.40 416.90,367.30 422.40,353.90" fill="none" stroke="#111" stroke-width="1.1" stroke-dasharray="2.6,0.9" stroke-linejoin="round"/>
<circle cx="295.50" cy="339.40" r="3.1" fill="#e8836b" stroke="none" stroke-width="0"/>
<circle cx="311.10" cy="336.00" r="3.1" fill="#e8836b" stroke="none" stroke-width="0"/>
<circle cx="317.10" cy="339.70" r="3.1" fill="#e8836b" stroke="none" stroke-width="0"/>
<circle cx="324.00" cy="346.90" r="3.1" fill="#e8836b" stroke="none" stroke-width="0"/>
<polygon points="303.90,335.00 307.10,339.10 303.90,343.20 300.70,339.10" fill="#a2142f" stroke="none" stroke-width="0"/>
<polygon points="342.80,353.70 346.00,357.80 342.80,361.90 339.60,357.80" fill="#a2142f" stroke="none" stroke-width="0"/>
<polygon points="359.80,357.70 363.00,361.80 359.80,365.90 356.60,361.80" fill="#a2142f" stroke="none" stroke-width="0"/>
<rect x="362.85" y="356.35" width="4.90" height="4.90" fill="#7b8ae6" stroke="none" stroke-width="0"/>
<rect x="369.75" y="351.05" width="4.90" height="4.90" fill="#7b8ae6" stroke="none" stroke-width="0"/>
<rect x="383.15" y="353.95" width="4.90" height="4.90" fill="#7b8ae6" stroke="none" stroke-width="0"/>
<rect x="401.85" y="365.15" width="4.90" height="4.90" fill="#7b8ae6" stroke="none" stroke-width="0"/>
<rect x="414.45" y="364.85" width="4.90" height="4.90" fill="#7b8ae6" stroke="none" stroke-width="0"/>
<circle cx="504.10" cy="255.80" r="2.8" fill="#e8836b" stroke="#000" stroke-width="1.0"/>
<text x="513.40" y="260.20" class="s" font-size="11.9" fill="#000">Cylindrical</text>
<rect x="501.95" y="267.85" width="4.30" height="4.30" fill="#7b8ae6" stroke="#000" stroke-width="1.0"/>
<text x="513.40" y="274.10" class="s" font-size="11.9" fill="#000">Concentric</text>
<polygon points="504.10,280.90 503.19,282.63 501.24,282.55 502.29,284.20 501.24,285.85 503.19,285.77 504.10,287.50 505.01,285.77 506.96,285.85 505.92,284.20 506.96,282.55 505.01,282.63" fill="#4a9a4a" stroke="#000" stroke-width="1.3"/>
<text x="513.40" y="288.20" class="s" font-size="11.9" fill="#000">Fractal</text>
<polyline points="517.50,299.30 528.00,325.00 536.20,336.70 544.80,331.60 553.70,343.70 566.60,357.00 579.40,351.40 596.90,363.60 606.30,363.10 609.80,363.60 632.00,371.80 648.30,373.20 653.70,372.20" fill="none" stroke="#111" stroke-width="1.0" stroke-dasharray="2.6,0.9" stroke-linejoin="round"/>
<polygon points="536.20,333.90 535.29,335.63 533.34,335.55 534.38,337.20 533.34,338.85 535.29,338.77 536.20,340.50 537.11,338.77 539.06,338.85 538.02,337.20 539.06,335.55 537.11,335.63" fill="#4a9a4a" stroke="#000" stroke-width="1.3"/>
<polygon points="567.00,353.70 566.09,355.43 564.14,355.35 565.18,357.00 564.14,358.65 566.09,358.57 567.00,360.30 567.91,358.57 569.86,358.65 568.82,357.00 569.86,355.35 567.91,355.43" fill="#4a9a4a" stroke="#000" stroke-width="1.3"/>
<circle cx="597.40" cy="363.60" r="2.8" fill="#e8836b" stroke="#000" stroke-width="1.0"/>
<circle cx="607.00" cy="363.60" r="2.8" fill="#e8836b" stroke="#000" stroke-width="1.0"/>
<circle cx="609.80" cy="363.80" r="2.8" fill="#e8836b" stroke="#000" stroke-width="1.0"/>
<circle cx="648.30" cy="373.20" r="2.8" fill="#e8836b" stroke="#000" stroke-width="1.0"/>
<rect x="630.25" y="369.65" width="4.30" height="4.30" fill="#7b8ae6" stroke="#000" stroke-width="1.0"/>
<line x1="104.00" y1="438.50" x2="294.00" y2="438.50" stroke="#262626" stroke-width="1" stroke-linecap="butt"/>
<line x1="104.00" y1="575.60" x2="294.00" y2="575.60" stroke="#262626" stroke-width="1" stroke-linecap="butt"/>
<path d="M104.00 575.60v-2.5M104.00 438.50v2.5M123.07 575.60v-2.1M123.07 438.50v2.1M134.22 575.60v-2.1M134.22 438.50v2.1M142.13 575.60v-2.1M142.13 438.50v2.1M148.27 575.60v-2.1M148.27 438.50v2.1M153.28 575.60v-2.1M153.28 438.50v2.1M157.52 575.60v-2.1M157.52 438.50v2.1M161.20 575.60v-2.1M161.20 438.50v2.1M164.44 575.60v-2.1M164.44 438.50v2.1M167.33 575.60v-2.5M167.33 438.50v2.5M186.40 575.60v-2.1M186.40 438.50v2.1M197.55 575.60v-2.1M197.55 438.50v2.1M205.46 575.60v-2.1M205.46 438.50v2.1M211.60 575.60v-2.1M211.60 438.50v2.1M216.62 575.60v-2.1M216.62 438.50v2.1M220.86 575.60v-2.1M220.86 438.50v2.1M224.53 575.60v-2.1M224.53 438.50v2.1M227.77 575.60v-2.1M227.77 438.50v2.1M230.67 575.60v-2.5M230.67 438.50v2.5M249.73 575.60v-2.1M249.73 438.50v2.1M260.88 575.60v-2.1M260.88 438.50v2.1M268.80 575.60v-2.1M268.80 438.50v2.1M274.93 575.60v-2.1M274.93 438.50v2.1M279.95 575.60v-2.1M279.95 438.50v2.1M284.19 575.60v-2.1M284.19 438.50v2.1M287.86 575.60v-2.1M287.86 438.50v2.1M291.10 575.60v-2.1M291.10 438.50v2.1M294.00 575.60v-2.5M294.00 438.50v2.5" stroke="#262626" stroke-width="0.9" fill="none"/>
<text x="104.00" y="591.50" class="s" font-size="11" text-anchor="middle">10<tspan dy="-6.2" font-size="8">2</tspan></text>
<text x="167.33" y="591.50" class="s" font-size="11" text-anchor="middle">10<tspan dy="-6.2" font-size="8">3</tspan></text>
<text x="230.67" y="591.50" class="s" font-size="11" text-anchor="middle">10<tspan dy="-6.2" font-size="8">4</tspan></text>
<text x="294.00" y="591.50" class="s" font-size="11" text-anchor="middle">10<tspan dy="-6.2" font-size="8">5</tspan></text>
<text x="202.25" y="435.60" class="s b" font-size="19.5" fill="#000" text-anchor="middle">h</text>
<line x1="376.30" y1="438.50" x2="565.10" y2="438.50" stroke="#262626" stroke-width="1" stroke-linecap="butt"/>
<line x1="376.30" y1="575.60" x2="565.10" y2="575.60" stroke="#262626" stroke-width="1" stroke-linecap="butt"/>
<path d="M376.30 575.60v-2.5M376.30 438.50v2.5M395.24 575.60v-2.1M395.24 438.50v2.1M406.33 575.60v-2.1M406.33 438.50v2.1M414.19 575.60v-2.1M414.19 438.50v2.1M420.29 575.60v-2.1M420.29 438.50v2.1M425.27 575.60v-2.1M425.27 438.50v2.1M429.48 575.60v-2.1M429.48 438.50v2.1M433.13 575.60v-2.1M433.13 438.50v2.1M436.35 575.60v-2.1M436.35 438.50v2.1M439.23 575.60v-2.5M439.23 438.50v2.5M458.18 575.60v-2.1M458.18 438.50v2.1M469.26 575.60v-2.1M469.26 438.50v2.1M477.12 575.60v-2.1M477.12 438.50v2.1M483.22 575.60v-2.1M483.22 438.50v2.1M488.20 575.60v-2.1M488.20 438.50v2.1M492.42 575.60v-2.1M492.42 438.50v2.1M496.07 575.60v-2.1M496.07 438.50v2.1M499.29 575.60v-2.1M499.29 438.50v2.1M502.17 575.60v-2.5M502.17 438.50v2.5M521.11 575.60v-2.1M521.11 438.50v2.1M532.19 575.60v-2.1M532.19 438.50v2.1M540.06 575.60v-2.1M540.06 438.50v2.1M546.16 575.60v-2.1M546.16 438.50v2.1M551.14 575.60v-2.1M551.14 438.50v2.1M555.35 575.60v-2.1M555.35 438.50v2.1M559.00 575.60v-2.1M559.00 438.50v2.1M562.22 575.60v-2.1M562.22 438.50v2.1M565.10 575.60v-2.5M565.10 438.50v2.5" stroke="#262626" stroke-width="0.9" fill="none"/>
<text x="376.30" y="591.50" class="s" font-size="11" text-anchor="middle">10<tspan dy="-6.2" font-size="8">2</tspan></text>
<text x="439.23" y="591.50" class="s" font-size="11" text-anchor="middle">10<tspan dy="-6.2" font-size="8">3</tspan></text>
<text x="502.17" y="591.50" class="s" font-size="11" text-anchor="middle">10<tspan dy="-6.2" font-size="8">4</tspan></text>
<text x="565.10" y="591.50" class="s" font-size="11" text-anchor="middle">10<tspan dy="-6.2" font-size="8">5</tspan></text>
<text x="472.35" y="435.60" class="s b" font-size="19.5" fill="#000" text-anchor="middle">i</text>
<polygon points="139.00,487.70 265.80,529.90 265.80,557.40 139.00,515.10" fill="#a8dcdc" stroke="none" stroke-width="0"/>
<polygon points="139.00,515.10 265.80,557.40 265.80,575.60 139.00,533.50" fill="#fdbcb0" stroke="none" stroke-width="0"/>
<line x1="104.00" y1="438.50" x2="104.00" y2="575.60" stroke="#ff5a3c" stroke-width="1.2" stroke-linecap="butt"/>
<line x1="294.00" y1="438.50" x2="294.00" y2="575.60" stroke="#2aa8a8" stroke-width="1.2" stroke-linecap="butt"/>
<line x1="104.00" y1="548.18" x2="106.00" y2="548.18" stroke="#ff5a3c" stroke-width="1" stroke-linecap="butt"/>
<line x1="294.00" y1="548.18" x2="292.00" y2="548.18" stroke="#2aa8a8" stroke-width="1" stroke-linecap="butt"/>
<text x="100.60" y="553.28" class="s" font-size="11" fill="#ff5a3c" text-anchor="end">1</text>
<text x="296.90" y="553.28" class="s" font-size="11" fill="#2aa8a8">1</text>
<line x1="104.00" y1="520.76" x2="106.00" y2="520.76" stroke="#ff5a3c" stroke-width="1" stroke-linecap="butt"/>
<line x1="294.00" y1="520.76" x2="292.00" y2="520.76" stroke="#2aa8a8" stroke-width="1" stroke-linecap="butt"/>
<text x="100.60" y="525.86" class="s" font-size="11" fill="#ff5a3c" text-anchor="end">2</text>
<text x="296.90" y="525.86" class="s" font-size="11" fill="#2aa8a8">2</text>
<line x1="104.00" y1="493.34" x2="106.00" y2="493.34" stroke="#ff5a3c" stroke-width="1" stroke-linecap="butt"/>
<line x1="294.00" y1="493.34" x2="292.00" y2="493.34" stroke="#2aa8a8" stroke-width="1" stroke-linecap="butt"/>
<text x="100.60" y="498.44" class="s" font-size="11" fill="#ff5a3c" text-anchor="end">3</text>
<text x="296.90" y="498.44" class="s" font-size="11" fill="#2aa8a8">3</text>
<line x1="104.00" y1="465.92" x2="106.00" y2="465.92" stroke="#ff5a3c" stroke-width="1" stroke-linecap="butt"/>
<line x1="294.00" y1="465.92" x2="292.00" y2="465.92" stroke="#2aa8a8" stroke-width="1" stroke-linecap="butt"/>
<text x="100.60" y="471.02" class="s" font-size="11" fill="#ff5a3c" text-anchor="end">4</text>
<text x="296.90" y="471.02" class="s" font-size="11" fill="#2aa8a8">4</text>
<line x1="104.00" y1="438.50" x2="106.00" y2="438.50" stroke="#ff5a3c" stroke-width="1" stroke-linecap="butt"/>
<line x1="294.00" y1="438.50" x2="292.00" y2="438.50" stroke="#2aa8a8" stroke-width="1" stroke-linecap="butt"/>
<text x="100.60" y="443.60" class="s" font-size="11" fill="#ff5a3c" text-anchor="end">5</text>
<text x="296.90" y="443.60" class="s" font-size="11" fill="#2aa8a8">5</text>
<polygon points="111.70,444.40 115.40,449.40 111.70,454.40 108.00,449.40" fill="#a2142f" stroke="none" stroke-width="0"/>
<text x="120.90" y="453.20" class="s" font-size="12.1" fill="#000">Non-Architected</text>
<circle cx="111.70" cy="463.60" r="3.4" fill="#e8836b" stroke="none" stroke-width="0"/>
<text x="120.90" y="467.30" class="s" font-size="12.1" fill="#000">Cylindrical</text>
<rect x="218.00" y="447.10" width="4.60" height="4.60" fill="#7b8ae6" stroke="none" stroke-width="0"/>
<text x="229.60" y="453.20" class="s" font-size="12.1" fill="#000">Concentric</text>
<polygon points="220.30,460.00 219.31,461.89 217.18,461.80 218.32,463.60 217.18,465.40 219.31,465.31 220.30,467.20 221.29,465.31 223.42,465.40 222.28,463.60 223.42,461.80 221.29,461.89" fill="#3a9a3a" stroke="none" stroke-width="0"/>
<text x="229.60" y="467.30" class="s" font-size="12.1" fill="#000">Fractal</text>
<line x1="137.70" y1="525.50" x2="120.90" y2="525.50" stroke="#f4511e" stroke-width="2.5" stroke-linecap="butt"/>
<polygon points="111.50,525.50 121.90,522.25 121.90,528.75" fill="#f4511e" stroke="none" stroke-width="0"/>
<line x1="266.90" y1="543.00" x2="279.40" y2="543.00" stroke="#179e96" stroke-width="2.1" stroke-linecap="butt"/>
<polygon points="288.10,543.00 278.40,539.95 278.40,546.05" fill="#179e96" stroke="none" stroke-width="0"/>
<circle cx="143.20" cy="528.60" r="3.4" fill="#e8705a" stroke="none" stroke-width="0"/>
<circle cx="159.00" cy="524.80" r="3.4" fill="#e8705a" stroke="none" stroke-width="0"/>
<circle cx="165.10" cy="529.10" r="3.4" fill="#e8705a" stroke="none" stroke-width="0"/>
<circle cx="172.00" cy="538.20" r="3.4" fill="#e8705a" stroke="none" stroke-width="0"/>
<polygon points="151.90,518.30 155.60,523.30 151.90,528.30 148.20,523.30" fill="#c0142e" stroke="none" stroke-width="0"/>
<polygon points="190.60,542.50 194.30,547.50 190.60,552.50 186.90,547.50" fill="#c0142e" stroke="none" stroke-width="0"/>
<polygon points="207.40,547.50 211.10,552.50 207.40,557.50 203.70,552.50" fill="#c0142e" stroke="none" stroke-width="0"/>
<polygon points="150.70,508.20 149.76,509.98 147.76,509.90 148.83,511.60 147.76,513.30 149.76,513.22 150.70,515.00 151.63,513.22 153.64,513.30 152.57,511.60 153.64,509.90 151.63,509.98" fill="#3a9a5a" stroke="#0a2e25" stroke-width="1.4"/>
<polygon points="181.50,513.70 180.56,515.48 178.56,515.40 179.63,517.10 178.56,518.80 180.56,518.72 181.50,520.50 182.44,518.72 184.44,518.80 183.37,517.10 184.44,515.40 182.44,515.48" fill="#3a9a5a" stroke="#0a2e25" stroke-width="1.4"/>
<rect x="210.60" y="548.70" width="5.00" height="5.00" fill="#a77bc8" stroke="none" stroke-width="0"/>
<rect x="217.20" y="541.40" width="5.00" height="5.00" fill="#a77bc8" stroke="none" stroke-width="0"/>
<rect x="230.70" y="544.70" width="5.00" height="5.00" fill="#a77bc8" stroke="none" stroke-width="0"/>
<rect x="249.30" y="560.70" width="5.00" height="5.00" fill="#a77bc8" stroke="none" stroke-width="0"/>
<rect x="262.00" y="559.50" width="5.00" height="5.00" fill="#a77bc8" stroke="none" stroke-width="0"/>
<circle cx="212.80" cy="517.10" r="3.3" fill="#a08c80" stroke="#000" stroke-width="1.2"/>
<circle cx="225.10" cy="525.00" r="3.3" fill="#a08c80" stroke="#000" stroke-width="1.2"/>
<circle cx="222.70" cy="541.80" r="3.3" fill="#a08c80" stroke="#000" stroke-width="1.2"/>
<circle cx="264.20" cy="550.80" r="3.3" fill="#a08c80" stroke="#000" stroke-width="1.2"/>
<rect x="245.70" y="538.10" width="5.00" height="5.00" fill="#4a7ad0" stroke="#000" stroke-width="1.2"/>
<polygon points="414.80,498.90 538.00,531.60 538.00,559.40 414.80,526.50" fill="#fdbcb0" stroke="none" stroke-width="0"/>
<polygon points="414.80,526.50 538.00,559.40 538.00,575.60 414.80,543.90" fill="#a8dcdc" stroke="none" stroke-width="0"/>
<line x1="376.30" y1="438.50" x2="376.30" y2="575.60" stroke="#ff5a3c" stroke-width="1.2" stroke-linecap="butt"/>
<line x1="565.10" y1="438.50" x2="565.10" y2="575.60" stroke="#2aa8a8" stroke-width="1.2" stroke-linecap="butt"/>
<line x1="376.30" y1="575.60" x2="378.30" y2="575.60" stroke="#ff5a3c" stroke-width="1" stroke-linecap="butt"/>
<line x1="565.10" y1="575.60" x2="563.10" y2="575.60" stroke="#2aa8a8" stroke-width="1" stroke-linecap="butt"/>
<text x="372.90" y="580.70" class="s" font-size="11" fill="#ff5a3c" text-anchor="end">0</text>
<text x="567.30" y="580.70" class="s" font-size="11" fill="#2aa8a8">0</text>
<line x1="376.30" y1="529.90" x2="378.30" y2="529.90" stroke="#ff5a3c" stroke-width="1" stroke-linecap="butt"/>
<line x1="565.10" y1="529.90" x2="563.10" y2="529.90" stroke="#2aa8a8" stroke-width="1" stroke-linecap="butt"/>
<text x="372.90" y="535.00" class="s" font-size="11" fill="#ff5a3c" text-anchor="end">0.05</text>
<text x="567.30" y="535.00" class="s" font-size="11" fill="#2aa8a8">0.05</text>
<line x1="376.30" y1="484.20" x2="378.30" y2="484.20" stroke="#ff5a3c" stroke-width="1" stroke-linecap="butt"/>
<line x1="565.10" y1="484.20" x2="563.10" y2="484.20" stroke="#2aa8a8" stroke-width="1" stroke-linecap="butt"/>
<text x="372.90" y="489.30" class="s" font-size="11" fill="#ff5a3c" text-anchor="end">0.1</text>
<text x="567.30" y="489.30" class="s" font-size="11" fill="#2aa8a8">0.1</text>
<line x1="376.30" y1="438.50" x2="378.30" y2="438.50" stroke="#ff5a3c" stroke-width="1" stroke-linecap="butt"/>
<line x1="565.10" y1="438.50" x2="563.10" y2="438.50" stroke="#2aa8a8" stroke-width="1" stroke-linecap="butt"/>
<text x="372.90" y="443.60" class="s" font-size="11" fill="#ff5a3c" text-anchor="end">0.15</text>
<text x="567.30" y="443.60" class="s" font-size="11" fill="#2aa8a8">0.15</text>
<polygon points="384.40,444.40 388.10,449.40 384.40,454.40 380.70,449.40" fill="#a2142f" stroke="none" stroke-width="0"/>
<text x="393.40" y="453.20" class="s" font-size="12.1" fill="#000">Non-Architected</text>
<circle cx="384.40" cy="463.60" r="3.4" fill="#e8836b" stroke="none" stroke-width="0"/>
<text x="393.40" y="467.30" class="s" font-size="12.1" fill="#000">Cylindrical</text>
<rect x="490.70" y="447.10" width="4.60" height="4.60" fill="#7b8ae6" stroke="none" stroke-width="0"/>
<text x="502.30" y="453.20" class="s" font-size="12.1" fill="#000">Concentric</text>
<polygon points="493.00,460.00 492.01,461.89 489.88,461.80 491.02,463.60 489.88,465.40 492.01,465.31 493.00,467.20 493.99,465.31 496.12,465.40 494.98,463.60 496.12,461.80 493.99,461.89" fill="#3a9a3a" stroke="none" stroke-width="0"/>
<text x="502.30" y="467.30" class="s" font-size="12.1" fill="#000">Fractal</text>
<line x1="411.50" y1="514.30" x2="394.80" y2="514.30" stroke="#f4511e" stroke-width="2.45" stroke-linecap="butt"/>
<polygon points="385.10,514.30 395.80,511.05 395.80,517.55" fill="#f4511e" stroke="none" stroke-width="0"/>
<line x1="539.30" y1="567.00" x2="551.40" y2="567.00" stroke="#179e96" stroke-width="2.0" stroke-linecap="butt"/>
<polygon points="560.70,567.00 550.40,563.95 550.40,570.05" fill="#179e96" stroke="none" stroke-width="0"/>
<circle cx="415.30" cy="511.30" r="3.4" fill="#e8705a" stroke="none" stroke-width="0"/>
<circle cx="431.00" cy="507.70" r="3.4" fill="#e8705a" stroke="none" stroke-width="0"/>
<circle cx="437.10" cy="511.30" r="3.4" fill="#e8705a" stroke="none" stroke-width="0"/>
<circle cx="444.00" cy="514.30" r="3.4" fill="#e8705a" stroke="none" stroke-width="0"/>
<polygon points="423.90,505.10 427.60,510.10 423.90,515.10 420.20,510.10" fill="#c0142e" stroke="none" stroke-width="0"/>
<polygon points="462.30,522.30 466.00,527.30 462.30,532.30 458.60,527.30" fill="#c0142e" stroke="none" stroke-width="0"/>
<polygon points="479.50,529.00 483.20,534.00 479.50,539.00 475.80,534.00" fill="#c0142e" stroke="none" stroke-width="0"/>
<polygon points="423.10,529.30 422.17,531.08 420.16,531.00 421.23,532.70 420.16,534.40 422.17,534.32 423.10,536.10 424.04,534.32 426.04,534.40 424.97,532.70 426.04,531.00 424.04,531.08" fill="#3a9a5a" stroke="#0a2e25" stroke-width="1.4"/>
<polygon points="453.90,547.80 452.96,549.58 450.96,549.50 452.03,551.20 450.96,552.90 452.96,552.82 453.90,554.60 454.83,552.82 456.84,552.90 455.77,551.20 456.84,549.50 454.83,549.58" fill="#3a9a5a" stroke="#0a2e25" stroke-width="1.4"/>
<rect x="482.30" y="541.40" width="5.00" height="5.00" fill="#a77bc8" stroke="none" stroke-width="0"/>
<rect x="489.40" y="540.10" width="5.00" height="5.00" fill="#a77bc8" stroke="none" stroke-width="0"/>
<rect x="502.90" y="543.90" width="5.00" height="5.00" fill="#a77bc8" stroke="none" stroke-width="0"/>
<rect x="521.00" y="552.00" width="5.00" height="5.00" fill="#a77bc8" stroke="none" stroke-width="0"/>
<rect x="533.70" y="550.80" width="5.00" height="5.00" fill="#a77bc8" stroke="none" stroke-width="0"/>
<circle cx="484.80" cy="558.70" r="3.3" fill="#a08c80" stroke="#000" stroke-width="1.2"/>
<circle cx="494.30" cy="551.30" r="3.3" fill="#a08c80" stroke="#000" stroke-width="1.2"/>
<circle cx="497.10" cy="556.90" r="3.3" fill="#a08c80" stroke="#000" stroke-width="1.2"/>
<circle cx="535.80" cy="566.20" r="3.3" fill="#a08c80" stroke="#000" stroke-width="1.2"/>
<rect x="517.70" y="562.80" width="5.00" height="5.00" fill="#4a7ad0" stroke="#000" stroke-width="1.2"/>
<g transform="translate(13.20,94.00) rotate(-90)">
<text x="0.00" y="0.00" class="r i" font-size="15" fill="#000" transform="translate(-13.3,0) scale(1.18,1)">E</text>
<line x1="-9.50" y1="-12.30" x2="-3.60" y2="-12.30" stroke="#000" stroke-width="0.9"/>
<text x="-3.00" y="2.40" class="r i" font-size="10.8" fill="#000">avg</text>
</g>
<text x="92.10" y="191.50" class="r i" font-size="15" fill="#000">ρ</text>
<line x1="93.10" y1="183.30" x2="98.90" y2="183.30" stroke="#000" stroke-width="0.9"/>
<g transform="translate(181.50,94.00) rotate(-90)">
<text x="0.00" y="0.00" class="r i" font-size="15" fill="#000" transform="translate(-13.3,0) scale(1.18,1)">E</text>
<line x1="-9.50" y1="-12.30" x2="-3.60" y2="-12.30" stroke="#000" stroke-width="0.9"/>
<text x="-3.00" y="2.40" class="r i" font-size="10.8" fill="#000">avg</text>
</g>
<text x="263.10" y="191.50" class="r i" font-size="15" fill="#000">ρ</text>
<line x1="264.10" y1="183.30" x2="269.90" y2="183.30" stroke="#000" stroke-width="0.9"/>
<g transform="translate(360.70,94.00) rotate(-90)">
<text x="0.00" y="0.00" class="r i" font-size="15" fill="#000" transform="translate(-13.3,0) scale(1.18,1)">E</text>
<line x1="-9.50" y1="-12.30" x2="-3.60" y2="-12.30" stroke="#000" stroke-width="0.9"/>
<text x="-3.00" y="2.40" class="r i" font-size="10.8" fill="#000">avg</text>
</g>
<text x="439.85" y="191.50" class="r i" font-size="15" fill="#000">ρ</text>
<line x1="440.85" y1="183.30" x2="446.65" y2="183.30" stroke="#000" stroke-width="0.9"/>
<g transform="translate(535.00,94.00) rotate(-90)">
<text x="0.00" y="0.00" class="r i" font-size="15" fill="#000" transform="translate(-13.3,0) scale(1.18,1)">E</text>
<line x1="-9.50" y1="-12.30" x2="-3.60" y2="-12.30" stroke="#000" stroke-width="0.9"/>
<text x="-3.00" y="2.40" class="r i" font-size="10.8" fill="#000">avg</text>
</g>
<text x="614.05" y="191.50" class="r i" font-size="15" fill="#000">ρ</text>
<line x1="615.05" y1="183.30" x2="620.85" y2="183.30" stroke="#000" stroke-width="0.9"/>
<g transform="translate(13.50,311.20) rotate(-90)">
<text x="-7.60" y="0.00" class="r i" font-size="13.5" fill="#000">h</text>
<line x1="-7.10" y1="-11.00" x2="-2.20" y2="-11.00" stroke="#000" stroke-width="0.9"/>
<text x="-0.40" y="2.30" class="r i" font-size="9.5" fill="#000">cr</text>
</g>
<g transform="translate(241.00,311.30) rotate(-90)">
<text x="-11.70" y="0.00" class="r i" font-size="13.5" fill="#000">h</text>
<line x1="-10.70" y1="-11.50" x2="-5.70" y2="-11.50" stroke="#000" stroke-width="0.9"/>
<text x="-4.40" y="1.70" class="r i" font-size="10.4" fill="#000">min</text>
</g>
<g transform="translate(467.40,310.65) rotate(-90)">
<text x="-22.90" y="0.00" class="r i" font-size="13.5" fill="#000">M</text>
<line x1="-21.50" y1="-11.00" x2="-13.90" y2="-11.00" stroke="#000" stroke-width="0.9"/>
<text x="0.00" y="0.00" class="r i" font-size="10" fill="#000" transform="translate(-11.0,1.4) scale(0.86,1)">min</text>
<line x1="7.0" y1="2.2" x2="12.0" y2="-10.6" stroke="#000" stroke-width="0.9"/>
<text x="14.00" y="0.00" class="r i" font-size="13.5" fill="#000">A</text>
<line x1="16.30" y1="-11.40" x2="21.40" y2="-11.40" stroke="#000" stroke-width="0.9"/>
</g>
<text x="114.20" y="408.90" class="r i" font-size="14.5" fill="#000">A</text>
<line x1="118.10" y1="397.80" x2="123.70" y2="397.80" stroke="#000" stroke-width="0.9"/>
<text x="123.50" y="411.50" class="r i" font-size="9.5" fill="#000">cr</text>
<text x="345.95" y="408.65" class="r i" font-size="14.5" fill="#000">A</text>
<line x1="350.05" y1="397.70" x2="355.45" y2="397.70" stroke="#000" stroke-width="0.9"/>
<text x="578.30" y="408.65" class="r i" font-size="14.5" fill="#000">A</text>
<line x1="582.40" y1="397.70" x2="587.80" y2="397.70" stroke="#000" stroke-width="0.9"/>
<text x="193.70" y="605.90" class="r i" font-size="14.5" fill="#000">A</text>
<line x1="197.80" y1="594.90" x2="203.20" y2="594.90" stroke="#000" stroke-width="0.9"/>
<text x="465.40" y="605.90" class="r i" font-size="14.5" fill="#000">A</text>
<line x1="469.50" y1="594.90" x2="474.90" y2="594.90" stroke="#000" stroke-width="0.9"/>
<g transform="translate(89.00,507.35) rotate(-90)">
<text x="-19.60" y="0.00" class="r i" font-size="14.5" fill="#ff5a3c">λ</text>
<text x="-10.90" y="2.70" class="r i" font-size="10.5" fill="#ff5a3c">L,hmin</text>
</g>
<g transform="translate(316.30,507.85) rotate(-90)">
<text x="-21.70" y="0.00" class="r i" font-size="14.5" fill="#2aa8a8">λ</text>
<text x="-13.30" y="2.30" class="r i" font-size="10.5" fill="#2aa8a8">L,Mmin</text>
</g>
<g transform="translate(346.00,508.00) rotate(-90)">
<text x="-14.30" y="0.00" class="r i" font-size="13" fill="#ff5a3c">ρ</text>
<line x1="-11.90" y1="-10.55" x2="-7.40" y2="-10.55" stroke="#ff5a3c" stroke-width="0.9"/>
<text x="-6.70" y="2.70" class="r i" font-size="10" fill="#ff5a3c">hmin</text>
</g>
<g transform="translate(600.00,508.00) rotate(-90)">
<text x="-16.50" y="0.00" class="r i" font-size="13" fill="#2aa8a8">ρ</text>
<line x1="-14.50" y1="-11.35" x2="-10.40" y2="-11.35" stroke="#2aa8a8" stroke-width="0.9"/>
<text x="-9.60" y="3.20" class="r i" font-size="10" fill="#2aa8a8">Mmin</text>
</g>
</g>
</svg></body></html>
